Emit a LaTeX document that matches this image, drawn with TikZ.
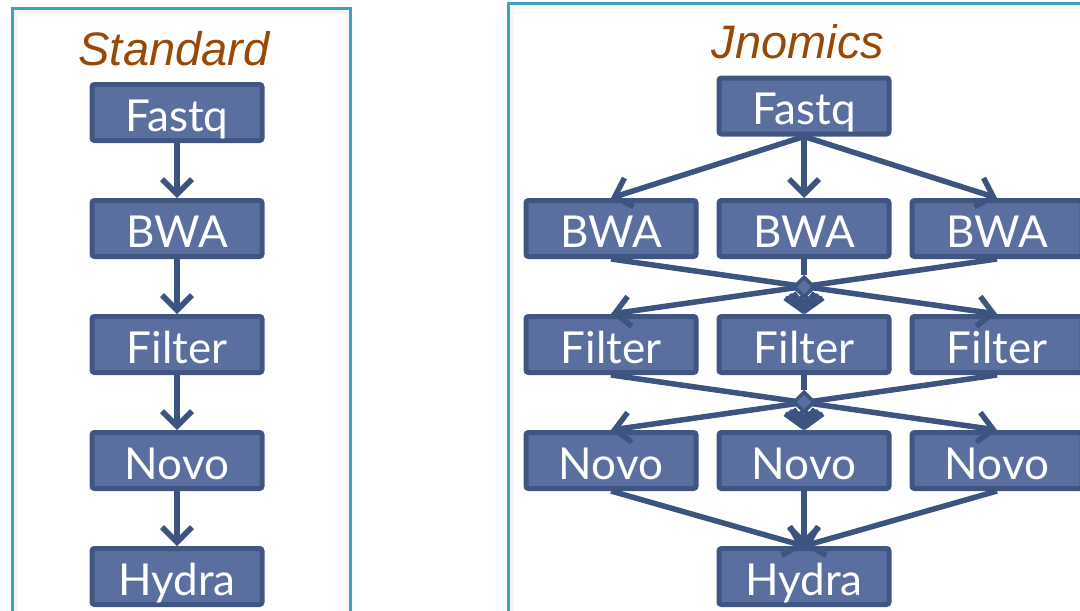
\documentclass[tikz,border=0pt]{standalone}
\usepackage{fontspec}
\setmainfont{Lato}
\newfontfamily\titlefont{Liberation Sans}
\usetikzlibrary{arrows.meta,shapes.geometric,calc}
\definecolor{boxfill}{HTML}{5A6FA0}
\definecolor{boxline}{HTML}{415582}
\definecolor{arrowc}{HTML}{3E5480}
\definecolor{titlec}{HTML}{984807}
\definecolor{panelc}{HTML}{3FA1BD}
\tikzset{
  stepbox/.style={draw=boxline, fill=boxfill, line width=5pt, rounded corners=2.5pt,
    minimum width=170pt, minimum height=56pt, inner sep=0pt, text=white,
    font=\fontsize{44}{46}\selectfont, text height=37pt, text depth=0pt},
  flow/.style={draw=arrowc, line width=5.5pt, -{Straight Barb[length=15pt,width=30pt]}},
  plain/.style={draw=arrowc, line width=5.5pt},
  junction/.style={diamond, draw=arrowc, fill=boxfill, line width=3.5pt, minimum size=21pt, inner sep=0pt},
  titletext/.style={text=titlec, font=\titlefont\itshape\fontsize{47}{49}\selectfont, anchor=base, inner sep=0pt},
  panel/.style={draw=panelc, line width=3pt},
  shade/.style={draw=black!4, line width=4pt}
}
\begin{document}
\begin{tikzpicture}[x=1pt,y=-1pt]
\useasboundingbox (0,0) rectangle (1080,611);
% panels
\draw[shade] (15.5,11.5) -- (346.5,11.5);
\draw[shade] (15.5,11.5) -- (15.5,620);
\draw[shade] (346.5,11.5) -- (346.5,620);
\draw[panel] (12,8) rectangle (350,625);
\draw[shade] (511.5,6.5) -- (1090,6.5);
\draw[shade] (511.5,6.5) -- (511.5,620);
\draw[panel] (508,3) rectangle (1095,625);
% titles
\node[titletext] (tstd) at (174,65) {Standard};
\node[titletext] (tjn) at (798,58) {Jnomics};
% standard column
\node[stepbox] (sfq) at (177,112.5) {Fastq};
\node[stepbox] (sbwa) at (177,228.5) {BWA};
\node[stepbox] (sfil) at (177,344.5) {Filter};
\node[stepbox] (snov) at (177,460.5) {Novo};
\node[stepbox] (shyd) at (177,576.5) {Hydra};
\draw[flow] (sfq) -- (sbwa);
\draw[flow] (sbwa) -- (sfil);
\draw[flow] (sfil) -- (snov);
\draw[flow] (snov) -- (shyd);
% jnomics
\node[stepbox] (jfq) at (804,106) {Fastq};
\node[stepbox] (b1) at (611,228.5) {BWA};
\node[stepbox] (b2) at (804,228.5) {BWA};
\node[stepbox] (b3) at (997,228.5) {BWA};
\node[stepbox] (f1) at (611,344.5) {Filter};
\node[stepbox] (f2) at (804,344.5) {Filter};
\node[stepbox] (f3) at (997,344.5) {Filter};
\node[stepbox] (n1) at (611,460.5) {Novo};
\node[stepbox] (n2) at (804,460.5) {Novo};
\node[stepbox] (n3) at (997,460.5) {Novo};
\node[stepbox] (jhyd) at (804,576.5) {Hydra};
\draw[flow] (jfq.south) -- (b1.north);
\draw[flow] (jfq.south) -- (b2.north);
\draw[flow] (jfq.south) -- (b3.north);
% BWA -> Filter
\draw[flow] (b1.south) -- (f3.north);
\draw[flow] (b3.south) -- (f1.north);
\node[junction] (j1) at (804,287) {};
\draw[plain] (b2.south) -- (j1.north);
\draw[flow] (j1.south) -- (f2.north);
\draw[flow] ($(j1.south)+(-4,-3)$) -- ($(f2.north)+(-1,0)$);
\draw[flow] ($(j1.south)+(4,-3)$) -- ($(f2.north)+(1,0)$);
% Filter -> Novo
\draw[flow] (f1.south) -- (n3.north);
\draw[flow] (f3.south) -- (n1.north);
\node[junction] (j2) at (804,402) {};
\draw[plain] (f2.south) -- (j2.north);
\draw[flow] (j2.south) -- (n2.north);
\draw[flow] ($(j2.south)+(-4,-3)$) -- ($(n2.north)+(-1,0)$);
\draw[flow] ($(j2.south)+(4,-3)$) -- ($(n2.north)+(1,0)$);
% Novo -> Hydra
\draw[flow] (n1.south) -- (jhyd.north);
\draw[flow] (n2.south) -- (jhyd.north);
\draw[flow] (n3.south) -- (jhyd.north);
\end{tikzpicture}
\end{document}
